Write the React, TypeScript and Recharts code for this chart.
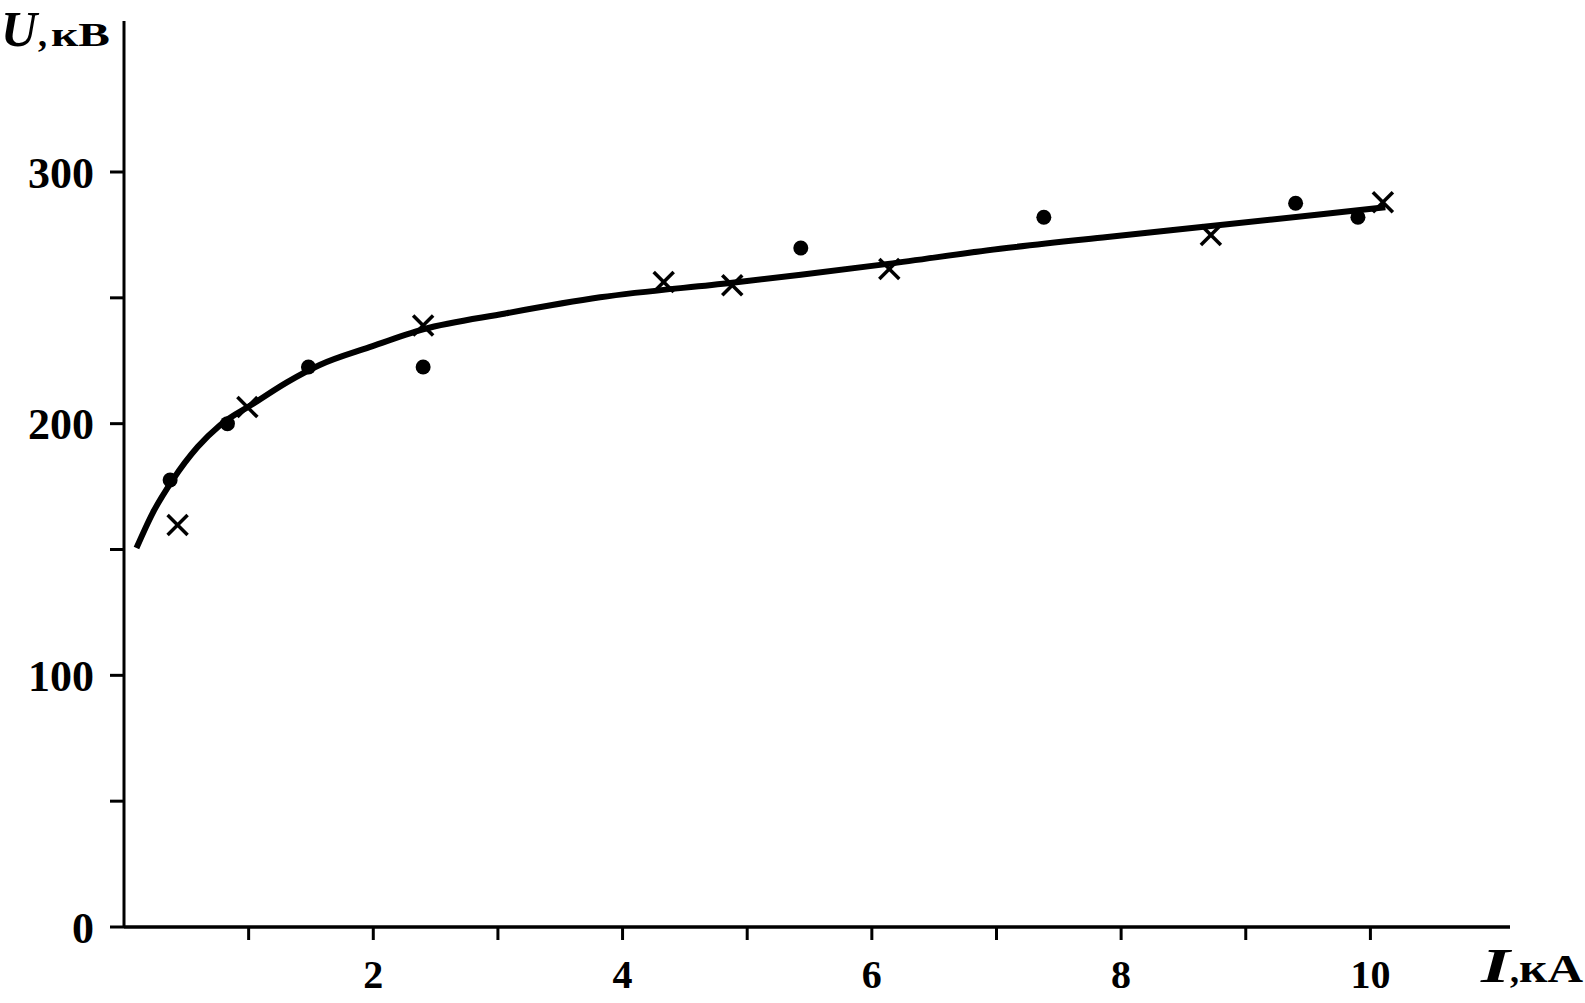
import React from 'react'
import { ComposedChart, Line, Scatter, XAxis, YAxis } from 'recharts'

// fitted curve U(I)
const curveI = [0.1, 0.23, 0.39, 0.59, 0.77, 1.04, 1.31, 1.57, 1.97, 2.4, 3.06, 3.82, 4.88, 5.43, 6.13, 7.03, 7.89, 8.72, 9.57, 10.12]
const curveU = [150.6, 164.5, 177.6, 190.7, 199.4, 208, 216.5, 223.3, 230.4, 237.5, 243.8, 250.2, 256, 259.2, 263.5, 269.5, 274.2, 278.5, 283, 286]

// measured points, two series
const dotI = [0.37, 0.83, 1.48, 2.4, 5.43, 7.38, 9.4, 9.9]
const dotU = [177.6, 200, 222.5, 222.5, 269.8, 282, 287.6, 282]
const crossI = [0.43, 0.99, 2.4, 4.33, 4.88, 6.14, 8.72, 10.1]
const crossU = [159.7, 206.6, 239, 256.3, 255, 261.5, 275, 288]

const xTicks = [1, 2, 3, 4, 5, 6, 7, 8, 9, 10]
const yTicks = [0, 50, 100, 150, 200, 250, 300]

const curve = curveI.map((x, i) => ({ x, y: curveU[i] }))
const dots = dotI.map((x, i) => ({ x, y: dotU[i] }))
const crosses = crossI.map((x, i) => ({ x, y: crossU[i] }))

const serif = '"Liberation Serif", "Times New Roman", serif'
const yTickStyle = { fontSize: 44, fontFamily: serif, fontWeight: 700, fill: '#000' }
const xTickStyle = { fontSize: 40, fontFamily: serif, fontWeight: 700, fill: '#000' }

const Dot = (props: any) => <circle cx={props.cx} cy={props.cy} r={7.5} fill="#000" />

const Cross = (props: any) => {
  const { cx, cy } = props
  const s = 10
  return (
    <g stroke="#000" strokeWidth={3.5}>
      <line x1={cx - s} y1={cy - s} x2={cx + s} y2={cy + s} />
      <line x1={cx - s} y1={cy + s} x2={cx + s} y2={cy - s} />
    </g>
  )
}

export default function App() {
  return (
    <div style={{ position: 'absolute', left: 0, top: 0, width: 1585, height: 1003, background: '#fff' }}>
      <ComposedChart width={1585} height={1003} margin={{ top: 21, right: 75, bottom: 0, left: 0 }}>
        <XAxis
          dataKey="x"
          type="number"
          domain={[0, 11.12]}
          ticks={xTicks}
          tickFormatter={(v) => (v % 2 === 0 ? String(v) : '')}
          height={76}
          axisLine={{ stroke: '#000', strokeWidth: 3.5 }}
          tickLine={{ stroke: '#000', strokeWidth: 3 }}
          tickSize={13}
          tickMargin={20}
          tick={xTickStyle}
          allowDataOverflow
        />
        <YAxis
          dataKey="y"
          type="number"
          domain={[0, 360]}
          ticks={yTicks}
          tickFormatter={(v) => (v % 100 === 0 ? String(v) : '')}
          width={124}
          axisLine={{ stroke: '#000', strokeWidth: 3 }}
          tickLine={{ stroke: '#000', strokeWidth: 3 }}
          tickSize={14}
          tickMargin={16}
          tick={yTickStyle}
          allowDataOverflow
        />
        <Line
          data={curve}
          dataKey="y"
          type="monotone"
          stroke="#000"
          strokeWidth={6}
          dot={false}
          activeDot={false}
          isAnimationActive={false}
        />
        <Scatter data={dots} dataKey="y" shape={Dot} isAnimationActive={false} />
        <Scatter data={crosses} dataKey="y" shape={Cross} isAnimationActive={false} />
      </ComposedChart>
      {/* axis titles */}
      <svg width={1585} height={1003} style={{ position: 'absolute', left: 0, top: 0, pointerEvents: 'none' }}>
        <g fontFamily={serif} fontWeight={700} fill="#000">
          <text y={46}>
            <tspan x={1} fontSize={50} fontStyle="italic">U</tspan>
            <tspan x={38} fontSize={36}>,</tspan>
            <tspan x={51} fontSize={34} textLength={59} lengthAdjust="spacingAndGlyphs">кВ</tspan>
          </text>
          <text y={982}>
            <tspan x={1481} fontSize={48} fontStyle="italic" textLength={29} lengthAdjust="spacingAndGlyphs">I</tspan>
            <tspan x={1510} fontSize={36}>,</tspan>
            <tspan x={1519} fontSize={40} textLength={64} lengthAdjust="spacingAndGlyphs">кА</tspan>
          </text>
        </g>
      </svg>
    </div>
  )
}
